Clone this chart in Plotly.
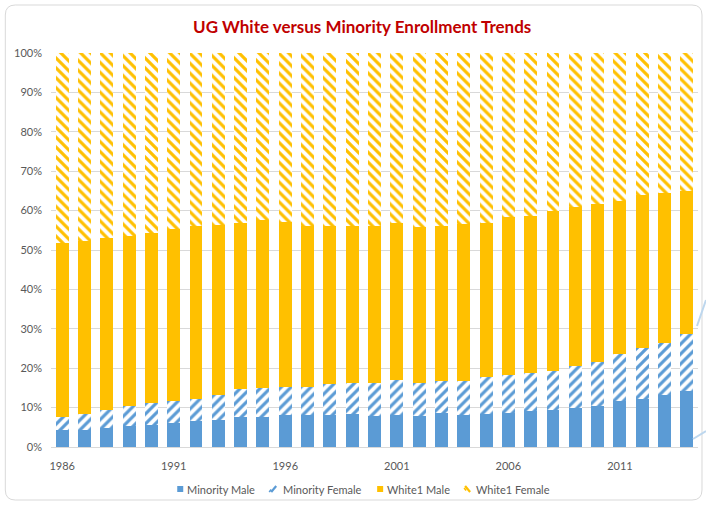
import plotly.graph_objects as go

years = list(range(1986, 2015))
minority_male = [4.3, 4.4, 4.7, 5.4, 5.6, 6.1, 6.5, 6.8, 7.6, 7.5, 8.0, 8.0, 8.2, 8.3, 7.9,
                 8.0, 7.9, 8.6, 8.0, 8.3, 8.6, 9.1, 9.3, 9.9, 10.5, 11.6, 12.3, 13.3, 14.2]
minority_female = [3.4, 4.0, 4.6, 4.9, 5.5, 5.7, 5.8, 6.3, 7.0, 7.5, 7.3, 7.3, 7.7, 8.0, 8.4,
                   8.9, 8.4, 8.2, 8.8, 9.5, 9.6, 9.7, 10.1, 10.6, 11.1, 11.9, 12.9, 13.1, 14.5]
white_male = [44.2, 43.8, 43.7, 43.2, 43.1, 43.5, 43.9, 43.3, 42.3, 42.5, 41.8, 40.9, 40.2, 39.7, 39.9,
              39.9, 39.5, 39.4, 39.8, 39.0, 40.1, 39.9, 40.4, 40.3, 40.0, 39.0, 38.8, 38.0, 36.4]
white_female = [48.1, 47.8, 47.0, 46.5, 45.8, 44.7, 43.8, 43.6, 43.1, 42.5, 42.9, 43.8, 43.9, 44.0, 43.8,
                43.2, 44.2, 43.8, 43.4, 43.2, 41.7, 41.3, 40.2, 39.2, 38.4, 37.5, 36.0, 35.6, 34.9]
tick_years = [1986, 1991, 1996, 2001, 2006, 2011]
series_names = ["Minority Male", "Minority Female", "White1 Male", "White1 Female"]

BLUE = "#5B9BD5"
GOLD = "#FFC000"
x = [str(y) for y in years]

series = [
    (series_names[0], minority_male, BLUE, None),
    (series_names[1], minority_female, BLUE, "/"),
    (series_names[2], white_male, GOLD, None),
    (series_names[3], white_female, GOLD, "\\"),
]

fig = go.Figure()
for name, vals, col, pat in series:
    marker = dict(color=col, line=dict(width=0))
    if pat:
        marker["pattern"] = dict(shape=pat, fgcolor=col, bgcolor="white",
                                 fillmode="replace", size=7, solidity=0.45)
    fig.add_trace(go.Bar(name=name, x=x, y=vals, marker=marker, showlegend=False))

L, R, T, B = 50.7, 8, 53, 59
W, H = 706, 506
pw = W - L - R
ph = H - T - B

def px2x(p):
    return (p - L) / pw

def py2y(p):
    return (H - B - p) / ph

# rounded chart border
x0, x1, y0, y1 = px2x(5), px2x(702), py2y(5), py2y(500)
rx = 10 / pw
ry = 10 / ph
path = (f"M {x0+rx},{y0} L {x1-rx},{y0} Q {x1},{y0} {x1},{y0-ry} "
        f"L {x1},{y1+ry} Q {x1},{y1} {x1-rx},{y1} L {x0+rx},{y1} "
        f"Q {x0},{y1} {x0},{y1+ry} L {x0},{y0-ry} Q {x0},{y0} {x0+rx},{y0} Z")

shapes = [
    dict(type="path", path=path, xref="paper", yref="paper",
         line=dict(color="#D9D9D9", width=1), fillcolor="rgba(0,0,0,0)", layer="below"),
    dict(type="line", xref="paper", yref="paper", x0=px2x(697), y0=py2y(326),
         x1=px2x(706), y1=py2y(300), line=dict(color="#BDD7EE", width=2)),
    dict(type="line", xref="paper", yref="paper", x0=px2x(693), y0=py2y(439),
         x1=px2x(706), y1=py2y(431), line=dict(color="#BDD7EE", width=2)),
]

# custom compact legend (Excel style)
legend_icon_x = [177, 270, 377, 465]
legend_text_x = [185, 281, 385, 474]
ly = 489
annotations = []
for (name, vals, col, pat), ix, tx in zip(series, legend_icon_x, legend_text_x):
    if pat is None:
        shapes.append(dict(type="rect", xref="paper", yref="paper",
                           x0=px2x(ix), x1=px2x(ix + 6), y0=py2y(ly + 3), y1=py2y(ly - 3),
                           fillcolor=col, line=dict(width=0)))
    elif pat == "/":
        shapes.append(dict(type="line", xref="paper", yref="paper",
                           x0=px2x(ix + 1), y0=py2y(ly + 3), x1=px2x(ix + 6), y1=py2y(ly - 3),
                           line=dict(color=col, width=2.2)))
        shapes.append(dict(type="line", xref="paper", yref="paper",
                           x0=px2x(ix - 1), y0=py2y(ly + 3), x1=px2x(ix + 1), y1=py2y(ly + 0.5),
                           line=dict(color=col, width=1.6)))
    else:
        shapes.append(dict(type="line", xref="paper", yref="paper",
                           x0=px2x(ix), y0=py2y(ly - 3), x1=px2x(ix + 5), y1=py2y(ly + 3),
                           line=dict(color=col, width=2.2)))
        shapes.append(dict(type="line", xref="paper", yref="paper",
                           x0=px2x(ix - 1), y0=py2y(ly - 1), x1=px2x(ix + 1), y1=py2y(ly + 1.5),
                           line=dict(color=col, width=1.6)))
    annotations.append(dict(text=name, x=px2x(tx), y=py2y(ly), xref="paper", yref="paper",
                            xanchor="left", yanchor="middle", showarrow=False,
                            font=dict(size=11, color="#595959")))

fig.update_layout(
    width=W, height=H,
    barmode="stack", barnorm="percent", bargap=0.42,
    margin=dict(l=L, r=R, t=T, b=B),
    paper_bgcolor="white", plot_bgcolor="white",
    font=dict(family="Lato, Open Sans, sans-serif", size=11, color="#595959"),
    title=dict(text="<b>UG White versus Minority Enrollment Trends</b>",
               x=0.513, xanchor="center", y=1 - 27 / H, yanchor="middle",
               font=dict(size=17, color="#C00000", family="Lato, Open Sans, sans-serif")),
    xaxis=dict(type="category", tickmode="array", tickvals=[str(t) for t in tick_years],
               ticktext=[str(t) for t in tick_years], showgrid=False, ticks="",
               showline=True, linecolor="#D9D9D9", linewidth=1, ticklabelstandoff=9,
               tickfont=dict(size=11, color="#595959"), automargin=False),
    yaxis=dict(range=[0, 100], dtick=10, ticksuffix="%", showgrid=True,
               gridcolor="#D9D9D9", gridwidth=1, zeroline=False, ticks="",
               ticklabelstandoff=8,
               tickfont=dict(size=11, color="#595959"), automargin=False),
    showlegend=False,
    shapes=shapes,
    annotations=annotations,
)

fig.write_html("out.html")
